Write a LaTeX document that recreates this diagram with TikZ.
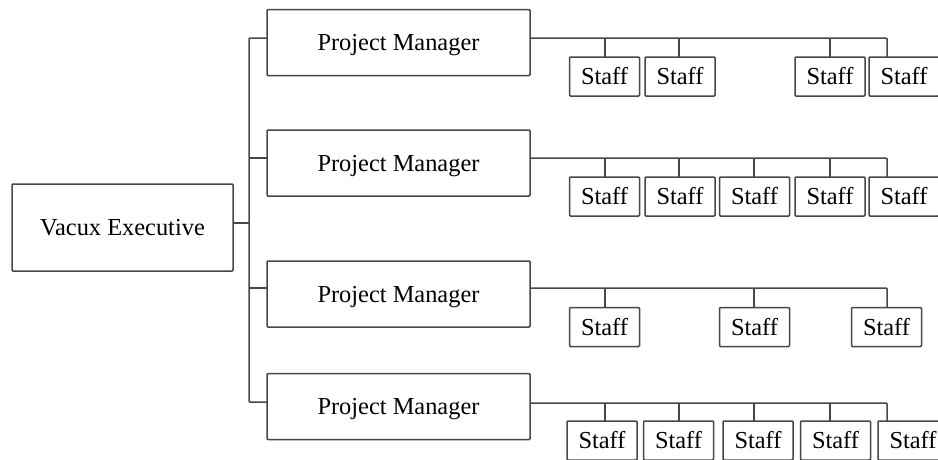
\documentclass[tikz,border=0pt]{standalone}
\usepackage{fontspec}
\setmainfont{Liberation Serif}
\begin{document}
\begin{tikzpicture}[x=1pt,y=-1pt,
  ln/.style={draw=black!72, line width=1.5pt},
  box/.style={ln, rounded corners=1pt, fill=white, inner sep=0pt, outer sep=0pt,
    font=\fontsize{24.4}{28}\selectfont, text=black, text height=16.1pt, text depth=0pt},
  exbox/.style={box, minimum width=221pt, minimum height=87pt},
  pmbox/.style={box, minimum width=263pt, minimum height=66pt},
  sbox/.style={box, minimum width=70pt, minimum height=39pt}]
\useasboundingbox (0,0) rectangle (938,459);
\clip (0,0) rectangle (938,459);
% executive
\node[exbox] (ex) at (122.5,227.5) {Vacux Executive};
% project managers
\node[pmbox] (pm1) at (398.5,42.5) {Project Manager};
\node[pmbox] (pm2) at (398.5,163) {Project Manager};
\node[pmbox] (pm3) at (398.5,294) {Project Manager};
\node[pmbox] (pm4) at (398.5,406.5) {Project Manager};
% trunk
\coordinate (j) at (249,223);
\coordinate (b1) at (249,38);
\coordinate (b2) at (249,158);
\coordinate (b3) at (249,288);
\coordinate (b4) at (249,402);
\draw[ln] (ex.east |- j) -- (j);
\draw[ln, rounded corners=1pt] (pm1.west |- b1) -- (b1) -- (b4) -- (pm4.west |- b4);
\draw[ln] (b2) -- (pm2.west |- b2);
\draw[ln] (b3) -- (pm3.west |- b3);
% row 1 staff
\node[sbox] (s11) at (604.5,76.5) {Staff};
\node[sbox] (s12) at (680,76.5) {Staff};
\node[sbox] (s14) at (830,76.5) {Staff};
\node[sbox] (s15) at (904,76.5) {Staff};
% row 2 staff
\node[sbox] (s21) at (604.5,196.5) {Staff};
\node[sbox] (s22) at (680,196.5) {Staff};
\node[sbox] (s23) at (754.5,196.5) {Staff};
\node[sbox] (s24) at (830,196.5) {Staff};
\node[sbox] (s25) at (904,196.5) {Staff};
% row 3 staff
\node[sbox] (s31) at (604.5,327) {Staff};
\node[sbox] (s33) at (754.5,327) {Staff};
\node[sbox] (s35) at (886.5,327) {Staff};
% row 4 staff
\node[sbox] (s41) at (602,440.5) {Staff};
\node[sbox] (s42) at (678.5,440.5) {Staff};
\node[sbox] (s43) at (758,440.5) {Staff};
\node[sbox] (s44) at (835.5,440.5) {Staff};
\node[sbox] (s45) at (913,440.5) {Staff};
% tick coordinates
\coordinate (c1) at (887,38);
\coordinate (c2) at (887,158);
\coordinate (c3) at (887,288);
\coordinate (c4) at (887,403);
% row 1 connectors
\draw[ln, rounded corners=1pt] (pm1.east |- c1) -- (c1) -- (c1 |- s15.north);
\coordinate (t11) at (605,38); \coordinate (t12) at (679,38); \coordinate (t14) at (830,38);
\draw[ln] (t11) -- (t11 |- s11.north);
\draw[ln] (t12) -- (t12 |- s12.north);
\draw[ln] (t14) -- (t14 |- s14.north);
% row 2 connectors
\draw[ln, rounded corners=1pt] (pm2.east |- c2) -- (c2) -- (c2 |- s25.north);
\coordinate (t21) at (605,158); \coordinate (t22) at (679,158); \coordinate (t23) at (754,158); \coordinate (t24) at (830,158);
\draw[ln] (t21) -- (t21 |- s21.north);
\draw[ln] (t22) -- (t22 |- s22.north);
\draw[ln] (t23) -- (t23 |- s23.north);
\draw[ln] (t24) -- (t24 |- s24.north);
% row 3 connectors
\draw[ln, rounded corners=1pt] (pm3.east |- c3) -- (c3) -- (c3 |- s35.north);
\coordinate (t31) at (605,288); \coordinate (t33) at (754,288);
\draw[ln] (t31) -- (t31 |- s31.north);
\draw[ln] (t33) -- (t33 |- s33.north);
% row 4 connectors
\draw[ln, rounded corners=1pt] (pm4.east |- c4) -- (c4) -- (c4 |- s45.north);
\coordinate (t41) at (605,403); \coordinate (t42) at (679,403); \coordinate (t43) at (754,403); \coordinate (t44) at (830,403);
\draw[ln] (t41) -- (t41 |- s41.north);
\draw[ln] (t42) -- (t42 |- s42.north);
\draw[ln] (t43) -- (t43 |- s43.north);
\draw[ln] (t44) -- (t44 |- s44.north);
\end{tikzpicture}
\end{document}
